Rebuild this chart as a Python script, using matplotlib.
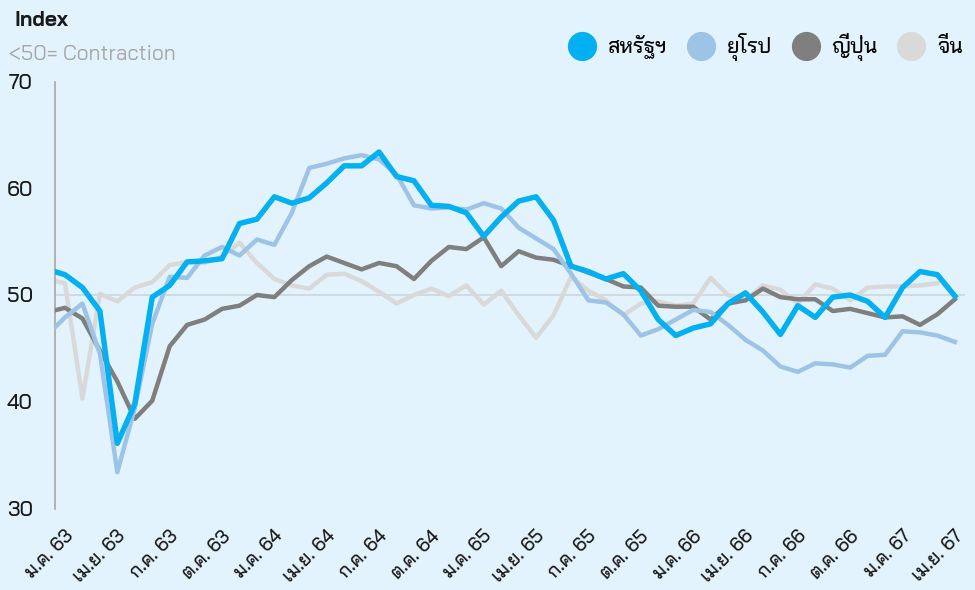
import numpy as np
import matplotlib
matplotlib.use('Agg')
import matplotlib.pyplot as plt
from matplotlib.lines import Line2D
from matplotlib.transforms import ScaledTranslation

# monthly PMI, Dec 2019 (clipped at the left edge) .. Apr 2024
us = [52.4,
      51.9, 50.7, 48.5, 36.1, 39.8, 49.8, 50.9, 53.1, 53.2, 53.4, 56.7, 57.1,
      59.2, 58.6, 59.1, 60.5, 62.1, 62.1, 63.4, 61.1, 60.7, 58.4, 58.3, 57.7,
      55.5, 57.3, 58.8, 59.2, 57.0, 52.7, 52.2, 51.5, 52.0, 50.4, 47.7, 46.2,
      46.9, 47.3, 49.2, 50.2, 48.4, 46.3, 49.0, 47.9, 49.8, 50.0, 49.4, 47.9,
      50.7, 52.2, 51.9, 49.9]
europe = [46.3,
          47.9, 49.2, 44.5, 33.4, 39.4, 47.3, 51.7, 51.6, 53.7, 54.5, 53.7, 55.2,
          54.7, 57.7, 61.9, 62.3, 62.8, 63.1, 62.7, 61.3, 58.4, 58.1, 58.2, 58.0,
          58.6, 58.1, 56.3, 55.3, 54.3, 52.0, 49.5, 49.3, 48.2, 46.2, 46.8, 47.7,
          48.6, 48.4, 47.2, 45.8, 44.8, 43.3, 42.8, 43.6, 43.5, 43.2, 44.3, 44.4,
          46.6, 46.5, 46.2, 45.6]
japan = [48.4,
         48.8, 47.8, 44.8, 41.9, 38.4, 40.1, 45.2, 47.2, 47.7, 48.7, 49.0, 50.0,
         49.8, 51.4, 52.7, 53.6, 53.0, 52.4, 53.0, 52.7, 51.5, 53.2, 54.5, 54.3,
         55.4, 52.7, 54.1, 53.5, 53.3, 52.7, 52.1, 51.5, 50.8, 50.7, 49.0, 48.9,
         48.9, 47.7, 49.2, 49.5, 50.6, 49.8, 49.6, 49.6, 48.5, 48.7, 48.3, 47.9,
         48.0, 47.2, 48.2, 49.6]
china = [51.5,
         51.1, 40.3, 50.1, 49.4, 50.7, 51.2, 52.8, 53.1, 53.0, 53.6, 54.9, 53.0,
         51.5, 50.9, 50.6, 51.9, 52.0, 51.3, 50.3, 49.2, 50.0, 50.6, 49.9, 50.9,
         49.1, 50.4, 48.1, 46.0, 48.1, 51.7, 50.4, 49.5, 48.1, 49.2, 49.4, 49.0,
         49.2, 51.6, 50.0, 49.5, 50.9, 50.5, 49.2, 51.0, 50.6, 49.5, 50.7, 50.8,
         50.8, 50.9, 51.1]

tick_labels = ['ม.ค. 63', 'เม.ย. 63', 'ก.ค. 63', 'ต.ค. 63',
               'ม.ค. 64', 'เม.ย. 64', 'ก.ค. 64', 'ต.ค. 64',
               'ม.ค. 65', 'เม.ย. 65', 'ก.ค. 65', 'ต.ค. 65',
               'ม.ค. 66', 'เม.ย. 66', 'ก.ค. 66', 'ต.ค. 66',
               'ม.ค. 67', 'เม.ย. 67']
series_names = ['สหรัฐฯ', 'ยุโรป', 'ญี่ปุ่น', 'จีน']
colors = ['#00b0f0', '#9dc3e6', '#7f7f7f', '#d9d9d9']

plt.rcParams['font.family'] = ['Bai Jamjuree', 'Noto Sans Thai', 'DejaVu Sans']
plt.rcParams['font.weight'] = 500

bg = '#e2f3fd'
fig = plt.figure(figsize=(9.75, 5.9), dpi=100, facecolor=bg)
ax = fig.add_axes([55 / 975, 81.5 / 590, 910 / 975, 427 / 590], facecolor=bg)

x = np.arange(len(us)) - 1
ax.axhline(50, color='#cfd6dc', lw=1.2, zorder=1)
ax.plot(x[:len(china)], china, color=colors[3], lw=3.2, zorder=2)
ax.plot(x, japan, color=colors[2], lw=3.2, zorder=3)
ax.plot(x, europe, color=colors[1], lw=3.2, zorder=4)
ax.plot(x, us, color=colors[0], lw=3.9, zorder=5)

ax.set_xlim(-0.573, 51.58)
ax.set_ylim(30, 70)
ax.set_yticks([30, 40, 50, 60, 70])
ax.set_xticks(np.arange(0, 52, 3))
ax.set_xticklabels(tick_labels, rotation=45, ha='right', va='center',
                   rotation_mode='anchor')
ax.tick_params(axis='x', length=0, pad=18, labelsize=13.5, colors='#1a1a1a')
ax.tick_params(axis='y', length=0, pad=16, labelsize=15, colors='#1a1a1a')
shift = ScaledTranslation(4 / 72, 0, fig.dpi_scale_trans)
for lbl in ax.get_xticklabels():
    lbl.set_transform(lbl.get_transform() + shift)
for s in ['top', 'right', 'bottom']:
    ax.spines[s].set_visible(False)
ax.spines['left'].set_color('#a6a6a6')
ax.spines['left'].set_linewidth(1.2)

fig.text(14 / 975, 1 - 20 / 590, 'Index', fontsize=15, fontweight='bold',
         va='center', ha='left', color='#1a1a1a')
fig.text(9 / 975, 1 - 54 / 590, '<50= Contraction', fontsize=15,
         fontweight='normal', va='center', ha='left', color='#a6a6a6')

handles = [Line2D([], [], marker='o', linestyle='none', markersize=20,
                  markerfacecolor=c, markeredgecolor=c) for c in colors]
fig.legend(handles, series_names, loc='center right', ncol=4,
           bbox_to_anchor=(971 / 975, 1 - 47 / 590), frameon=False,
           fontsize=15, handletextpad=0.5, columnspacing=0.85,
           handlelength=1.5, borderaxespad=0)

fig.savefig('out.png', dpi=100, facecolor=bg)
